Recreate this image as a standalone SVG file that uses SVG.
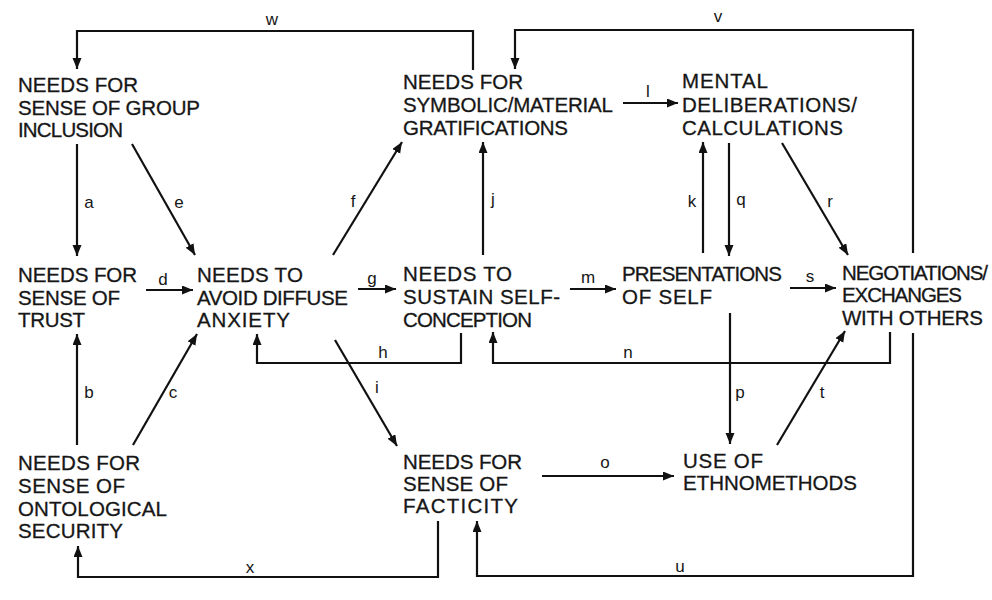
<svg xmlns="http://www.w3.org/2000/svg" width="992" height="600" viewBox="0 0 992 600">
<defs>
<marker id="ah" markerUnits="userSpaceOnUse" markerWidth="12" markerHeight="10" refX="11" refY="4.5" orient="auto">
<path d="M0,0 L11,4.5 L0,9 z" fill="#111"/>
</marker>
<style>
.n{font-family:"Liberation Sans",Arial,sans-serif;font-size:20.5px;fill:#161616;stroke:#161616;stroke-width:0.3}
.l{font-family:"Liberation Sans",Arial,sans-serif;font-size:17px;fill:#161616;text-anchor:middle}
.c{fill:none;stroke:#111;stroke-width:2.2}
.a{marker-end:url(#ah)}
</style>
</defs>
<rect width="992" height="600" fill="#fff"/>
<g id="group-inclusion" class="n">
<text x="18" y="92" textLength="120">NEEDS FOR</text>
<text x="18" y="114.5" textLength="182">SENSE OF GROUP</text>
<text x="18" y="137" textLength="105">INCLUSION</text>
</g>
<g id="trust" class="n">
<text x="18" y="282" textLength="119">NEEDS FOR</text>
<text x="18" y="305" textLength="102">SENSE OF</text>
<text x="18" y="327" textLength="67">TRUST</text>
</g>
<g id="ontological-security" class="n">
<text x="18" y="470" textLength="122">NEEDS FOR</text>
<text x="18" y="493" textLength="107">SENSE OF</text>
<text x="18" y="516" textLength="149">ONTOLOGICAL</text>
<text x="18" y="538" textLength="105">SECURITY</text>
</g>
<g id="diffuse-anxiety" class="n">
<text x="197" y="282" textLength="106">NEEDS TO</text>
<text x="197" y="305" textLength="151">AVOID DIFFUSE</text>
<text x="197" y="327" textLength="93">ANXIETY</text>
</g>
<g id="gratifications" class="n">
<text x="403" y="89" textLength="120">NEEDS FOR</text>
<text x="403" y="112" textLength="210">SYMBOLIC/MATERIAL</text>
<text x="403" y="135" textLength="165">GRATIFICATIONS</text>
</g>
<g id="self-conception" class="n">
<text x="403" y="281" textLength="109">NEEDS TO</text>
<text x="403" y="304" textLength="157">SUSTAIN SELF-</text>
<text x="403" y="327" textLength="129">CONCEPTION</text>
</g>
<g id="facticity" class="n">
<text x="403" y="469" textLength="119">NEEDS FOR</text>
<text x="403" y="491" textLength="105">SENSE OF</text>
<text x="403" y="513" textLength="115">FACTICITY</text>
</g>
<g id="mental-deliberations" class="n">
<text x="682" y="88" textLength="86">MENTAL</text>
<text x="682" y="112" textLength="175">DELIBERATIONS/</text>
<text x="682" y="135" textLength="161">CALCULATIONS</text>
</g>
<g id="presentations" class="n">
<text x="622" y="281" textLength="160">PRESENTATIONS</text>
<text x="622" y="304" textLength="90">OF SELF</text>
</g>
<g id="ethnomethods" class="n">
<text x="683" y="468" textLength="80">USE OF</text>
<text x="683" y="490" textLength="174">ETHNOMETHODS</text>
</g>
<g id="negotiations" class="n">
<text x="842" y="280" textLength="146">NEGOTIATIONS/</text>
<text x="842" y="302" textLength="120">EXCHANGES</text>
<text x="842" y="325" textLength="141">WITH OTHERS</text>
</g>
<g id="connectors">
<path class="c a" d="M473,70 V31 H77 V69"/>
<path class="c a" d="M913,253 V30 H515 V69"/>
<path class="c a" d="M77,144 V256"/>
<path class="c a" d="M132,144 L195,255"/>
<path class="c a" d="M623,103 H678"/>
<path class="c a" d="M333,255 L402,142"/>
<path class="c a" d="M483,255 V142"/>
<path class="c a" d="M703,253 V142"/>
<path class="c a" d="M729,143 V256"/>
<path class="c a" d="M782,143 L848,255"/>
<path class="c a" d="M146,290 H193"/>
<path class="c a" d="M358,289 H396"/>
<path class="c a" d="M570,289 H616"/>
<path class="c a" d="M790,288 H836"/>
<path class="c a" d="M461,333 V363 H257 V334"/>
<path class="c a" d="M890,332 V363 H493 V332"/>
<path class="c a" d="M77,445 V334"/>
<path class="c a" d="M133,445 L197,334"/>
<path class="c a" d="M335,340 L397,446"/>
<path class="c a" d="M730,313 V444"/>
<path class="c a" d="M777,445 L845,331"/>
<path class="c a" d="M542,476 H674"/>
<path class="c a" d="M438,521 V577 H78 V546"/>
<path class="c a" d="M913,333 V576 H477 V521"/>
<g class="l">
<text x="272" y="25">w</text>
<text x="718" y="22">v</text>
<text x="648" y="97">l</text>
<text x="89" y="208">a</text>
<text x="179" y="208">e</text>
<text x="353" y="207">f</text>
<text x="493" y="205">j</text>
<text x="692" y="207">k</text>
<text x="741" y="205">q</text>
<text x="830" y="207">r</text>
<text x="163" y="285">d</text>
<text x="372" y="284">g</text>
<text x="588" y="283">m</text>
<text x="810" y="282">s</text>
<text x="383" y="358">h</text>
<text x="628" y="358">n</text>
<text x="377" y="393">i</text>
<text x="89" y="398">b</text>
<text x="173" y="398">c</text>
<text x="740" y="398">p</text>
<text x="822" y="398">t</text>
<text x="605" y="468">o</text>
<text x="250" y="573">x</text>
<text x="680" y="572">u</text>
</g>
</g>
</svg>
